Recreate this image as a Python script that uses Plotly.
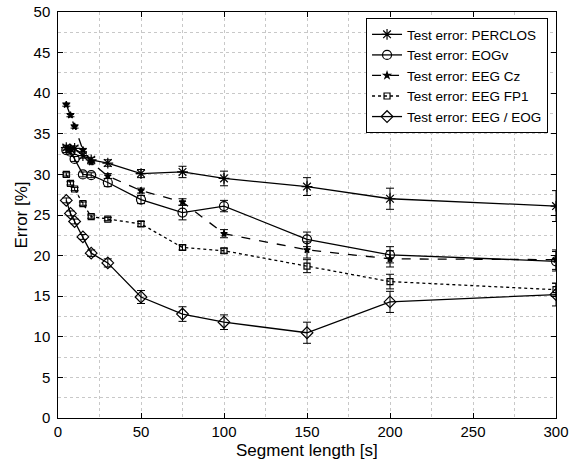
import plotly.graph_objects as go

seg_len = [5, 7.5, 10, 15, 20, 30, 50, 75, 100, 150, 200, 300]

perclos = [33.3, 33.1, 33.2, 32.3, 31.8, 31.4, 30.1, 30.3, 29.5, 28.5, 27.0, 26.1]
perclos_err = [0.3, 0.3, 0.3, 0.3, 0.3, 0.4, 0.5, 0.7, 0.9, 1.1, 1.3, 1.9]

eogv = [33.0, 32.8, 31.9, 30.0, 29.9, 29.0, 26.9, 25.3, 26.1, 22.0, 20.1, 19.3]
eogv_err = [0.3, 0.3, 0.3, 0.3, 0.3, 0.5, 0.5, 0.9, 0.7, 0.9, 1.0, 1.2]

eeg_cz = [38.6, 37.3, 35.9, 33.0, 31.5, 29.8, 28.0, 26.6, 22.7, 20.7, 19.6, 19.5]
eeg_cz_err = [0.2, 0.2, 0.2, 0.2, 0.2, 0.3, 0.3, 0.4, 0.5, 1.0, 1.0, 1.2]

eeg_fp1 = [30.0, 28.9, 28.2, 26.4, 24.8, 24.5, 23.9, 21.0, 20.6, 18.7, 16.8, 15.8]
eeg_fp1_err = [0.2, 0.2, 0.2, 0.2, 0.2, 0.2, 0.3, 0.3, 0.3, 0.8, 0.9, 0.8]

eeg_eog = [26.8, 25.2, 24.2, 22.3, 20.3, 19.1, 14.9, 12.8, 11.8, 10.5, 14.3, 15.2]
eeg_eog_err = [0.3, 0.3, 0.3, 0.3, 0.4, 0.5, 0.8, 0.9, 0.9, 1.3, 1.3, 1.4]

names = ["Test error: PERCLOS", "Test error: EOGv", "Test error: EEG Cz",
         "Test error: EEG FP1", "Test error: EEG / EOG"]

x_title = "Segment length [s]"
y_title = "Error [%]"

series = [
    (perclos, perclos_err, "asterisk-open", 9, "solid"),
    (eogv, eogv_err, "circle-open", 9, "solid"),
    (eeg_cz, eeg_cz_err, "star", 5, "dash"),
    (eeg_fp1, eeg_fp1_err, "square-open", 6, "dot"),
    (eeg_eog, eeg_eog_err, "diamond-open", 9, "solid"),
]

fig = go.Figure()
for name, (vals, errs, sym, msize, dash) in zip(names, series):
    fig.add_trace(go.Scatter(
        x=seg_len, y=vals, name=name, mode="lines+markers",
        line=dict(color="black", width=1.3, dash=dash),
        marker=dict(symbol=sym, size=msize, color="black",
                    line=dict(color="black", width=1.2)),
        error_y=dict(type="data", array=errs, visible=True,
                     color="black", thickness=1, width=4),
    ))

grid_color = "#c8c8c8"
fnt = "Liberation Sans, Arial, sans-serif"
fig.update_layout(
    width=574, height=461,
    margin=dict(l=58, r=18, t=12, b=43, autoexpand=False),
    paper_bgcolor="white", plot_bgcolor="white",
    font=dict(family=fnt, size=15, color="black"),
    showlegend=True,
    legend=dict(x=0.984, y=0.985, xanchor="right", yanchor="top",
                bgcolor="white", bordercolor="black", borderwidth=1,
                font=dict(family=fnt, size=13.5, color="black"),
                tracegroupgap=0),
    xaxis=dict(
        range=[0, 300], dtick=50, tick0=0, automargin=False,
        tickfont=dict(family=fnt, size=15, color="black"),
        showline=True, linecolor="black", linewidth=1, mirror="allticks",
        ticks="inside", ticklen=5, tickcolor="black",
        showgrid=True, gridcolor=grid_color, griddash="3px,3px", gridwidth=1,
        minor=dict(dtick=25, showgrid=True, gridcolor=grid_color,
                   griddash="3px,3px", gridwidth=1),
        zeroline=False,
    ),
    yaxis=dict(
        range=[0, 50], dtick=5, tick0=0, automargin=False,
        tickfont=dict(family=fnt, size=15, color="black"),
        ticksuffix="\u2005",
        title=dict(text=y_title, standoff=1,
                   font=dict(family=fnt, size=17, color="black")),
        showline=True, linecolor="black", linewidth=1, mirror="allticks",
        ticks="inside", ticklen=5, tickcolor="black",
        showgrid=True, gridcolor=grid_color, griddash="3px,3px", gridwidth=1,
        minor=dict(dtick=2.5, showgrid=True, gridcolor=grid_color,
                   griddash="3px,3px", gridwidth=1),
        zeroline=False,
    ),
    annotations=[dict(text=x_title, xref="paper", yref="paper", x=0.5, y=0,
                      xanchor="center", yanchor="top", yshift=-21,
                      showarrow=False,
                      font=dict(family=fnt, size=17, color="black"))],
)

fig.write_html("out.html")
